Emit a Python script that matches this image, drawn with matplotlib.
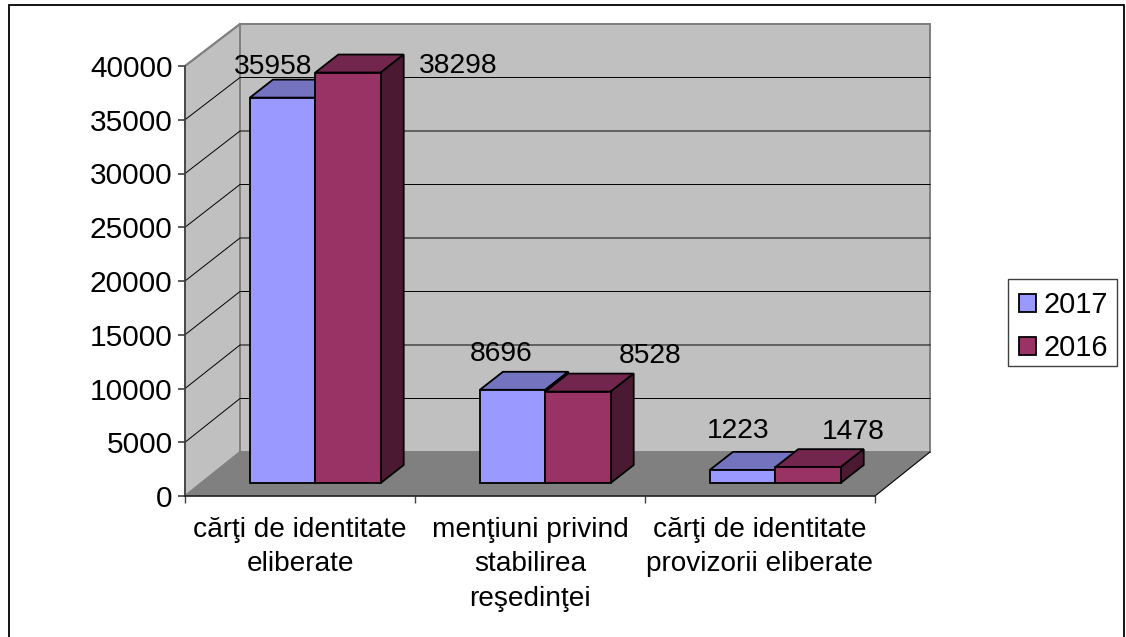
import matplotlib
matplotlib.use('Agg')
import matplotlib.pyplot as plt
from matplotlib.patches import Patch, Polygon, Rectangle

plt.rcParams['font.family'] = ['Liberation Sans', 'DejaVu Sans']

categories = ['cărţi de identitate\neliberate',
              'menţiuni privind\nstabilirea\nreşedinţei',
              'cărţi de identitate\nprovizorii eliberate']
series_names = ['2017', '2016']
values_2017 = [35958, 8696, 1223]
values_2016 = [38298, 8528, 1478]
yticks = [0, 5000, 10000, 15000, 20000, 25000, 30000, 35000, 40000]

# label offsets from the top of each bar, in points
offsets_2017 = [(-6.5, 22), (-8, 25.5), (-3.5, 28)]
offsets_2016 = [(79, 4.5), (52, 25.5), (32.5, 25)]

# pixel -> data scale of the fake 3d box
W, H = 1126, 637
CAT_PX = 230.0
VAL_PX = 430.0 / 40000
WALL_DX, WALL_DY = 55 / CAT_PX, 44 / VAL_PX
FRONT_DX, FRONT_DY = 15.3 / CAT_PX, 13 / VAL_PX
BAR_DX, BAR_DY = 23 / CAT_PX, 18 / VAL_PX
BAR_W = 65.4 / CAT_PX
# walls and bars sit further back, so they come out a touch shorter
BACK_SCALE = 428.0 / 430
BAR_SCALE = 428.7 / 430

fig = plt.figure(figsize=(W / 100, H / 100), dpi=100, facecolor='white')
ax = fig.add_axes([185 / W, 1 - 496 / H, 690 / W, 430 / H])
ax.set_xlim(0, 3)
ax.set_ylim(0, 40000)
ax.patch.set_visible(False)


def poly(points, face, edge='none', lw=0, z=1):
    ax.add_patch(Polygon(points, closed=True, facecolor=face, edgecolor=edge,
                         linewidth=lw, zorder=z, clip_on=False, joinstyle='miter'))


wall_top = 40000 * BACK_SCALE + WALL_DY

# walls and floor
poly([(0, 0), (0, 40000), (WALL_DX, wall_top), (WALL_DX, WALL_DY)],
     '#C0C0C0', '#808080', 1.4)
poly([(WALL_DX, WALL_DY), (WALL_DX, wall_top),
      (3 + WALL_DX, wall_top), (3 + WALL_DX, WALL_DY)],
     '#C0C0C0', '#808080', 1.4)
poly([(0, 0), (3, 0), (3 + WALL_DX, WALL_DY), (WALL_DX, WALL_DY)], '#808080', z=1.5)

# grid on the side wall and back wall
for v in yticks[1:-1]:
    back = v * BACK_SCALE + WALL_DY
    ax.plot([0, WALL_DX, 3 + WALL_DX], [v, back, back],
            color='black', lw=0.7, zorder=2, clip_on=False)
ax.plot([0, WALL_DX], [40000, wall_top], color='#808080', lw=1.4, zorder=2, clip_on=False)
ax.plot([WALL_DX, 3 + WALL_DX], [wall_top, wall_top], color='#808080', lw=1.4,
        zorder=2, clip_on=False)
# front edge of the floor on the right
ax.plot([3, 3 + WALL_DX], [0, WALL_DY], color='black', lw=0.8, zorder=2, clip_on=False)


def bar3d(x0, val, front, top, side):
    x = x0 + FRONT_DX
    y0, y1 = FRONT_DY, val * BAR_SCALE + FRONT_DY
    x1 = x + BAR_W
    poly([(x, y1), (x1, y1), (x1 + BAR_DX, y1 + BAR_DY), (x + BAR_DX, y1 + BAR_DY)],
         top, 'black', 1.3, 3)
    poly([(x1, y0), (x1, y1), (x1 + BAR_DX, y1 + BAR_DY), (x1 + BAR_DX, y0 + BAR_DY)],
         side, 'black', 1.3, 3)
    poly([(x, y0), (x, y1), (x1, y1), (x1, y0)], front, 'black', 1.3, 3)
    return x, y1


for i, (v17, v16) in enumerate(zip(values_2017, values_2016)):
    left = i + 0.5 - BAR_W
    x, y = bar3d(left, v17, '#9999FF', '#7373BF', '#4C4C7F')
    ax.annotate(str(v17), (x + BAR_W / 2, y), xytext=offsets_2017[i], textcoords='offset points',
                ha='center', va='center', fontsize=20.3, color='black', zorder=5,
                annotation_clip=False)
    x, y = bar3d(left + BAR_W, v16, '#993366', '#73264D', '#4C1933')
    ax.annotate(str(v16), (x + BAR_W / 2, y), xytext=offsets_2016[i], textcoords='offset points',
                ha='center', va='center', fontsize=20.3, color='black', zorder=5,
                annotation_clip=False)

# axes
for name in ['top', 'right']:
    ax.spines[name].set_visible(False)
ax.spines['left'].set_color('#404040')
ax.spines['left'].set_linewidth(1.2)
ax.spines['bottom'].set_color('#202020')
ax.spines['bottom'].set_linewidth(1.2)
ax.spines['left'].set_zorder(4)
ax.spines['bottom'].set_zorder(4)
ax.set_yticks(yticks)
ax.tick_params(axis='y', labelsize=21.5, length=5, width=1.2, color='#404040', pad=4)
ax.set_xticks([0, 1, 2, 3])
ax.set_xticklabels([])
ax.tick_params(axis='x', length=5, width=1.0, color='#404040')
ax.set_xticks([0.5, 1.5, 2.5], minor=True)
ax.set_xticklabels(categories, minor=True, fontsize=20.2, linespacing=1.43, va='top')
ax.tick_params(axis='x', which='minor', length=0, pad=15)

# legend box drawn apart: the entries sit low in it
fig.add_artist(Rectangle((1008 / W, 1 - 366 / H), 109 / W, 87 / H, transform=fig.transFigure,
                         facecolor='white', edgecolor='#404040', linewidth=1.0))
handles = [Patch(facecolor='#9999FF', edgecolor='black', linewidth=1.3),
           Patch(facecolor='#993366', edgecolor='black', linewidth=1.3)]
leg = fig.legend(handles, series_names, loc='upper left', bbox_to_anchor=(1008 / W, 1 - 280.5 / H),
                 fontsize=20.8, frameon=False,
                 handlelength=0.58, handleheight=0.58, handletextpad=0.27, labelspacing=0.5,
                 borderpad=0.38, borderaxespad=0)
leg.set_zorder(6)

# outer chart frame
fig.add_artist(Rectangle((8.5 / W, -0.01), (1124 - 8.5) / W, 1.01 - 5 / H, transform=fig.transFigure,
                         facecolor='none', edgecolor='black', linewidth=1.3))

fig.savefig('out.png', dpi=100)
